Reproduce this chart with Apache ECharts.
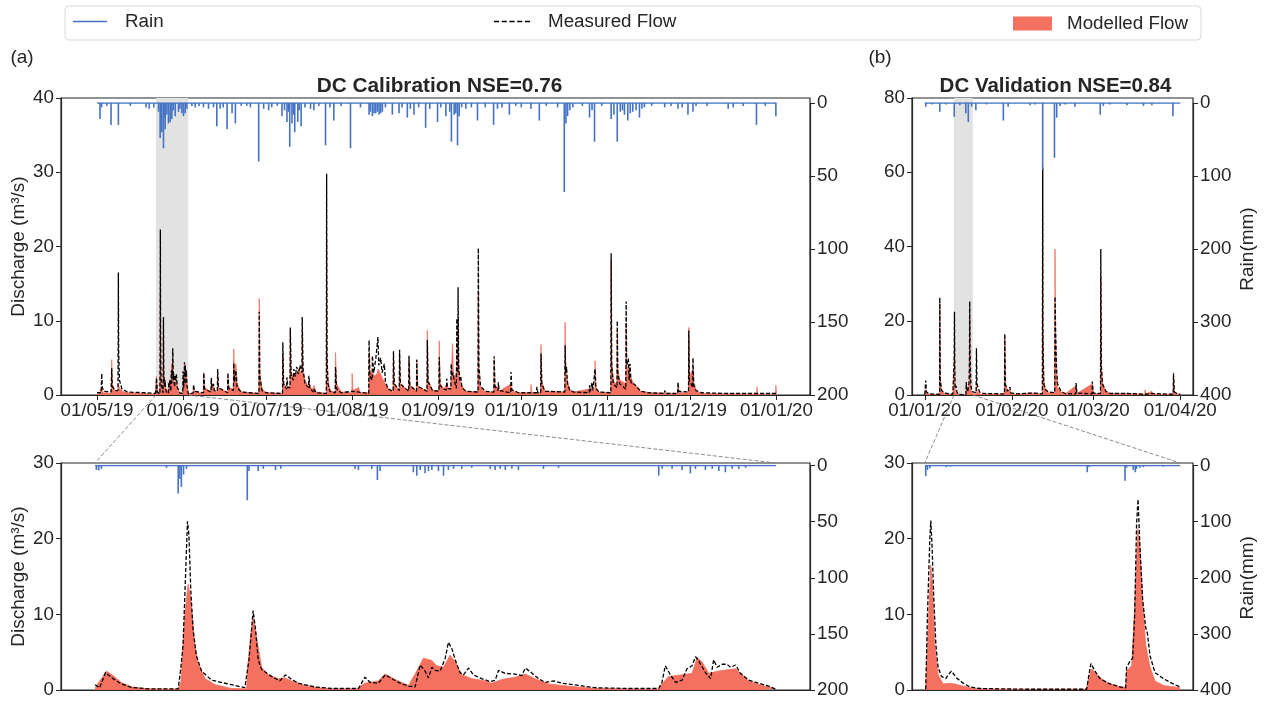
<!DOCTYPE html>
<html><head><meta charset="utf-8">
<script src="https://cdn.jsdelivr.net/npm/echarts@6/dist/echarts.min.js"></script>
<style>html,body{margin:0;padding:0;background:#fff}#c{width:1264px;height:703px}</style>
</head><body><div id="c"></div><script>
// ---------------- DATA ----------------
const calStart = '2019-05-01', calEnd = '2020-01-01';
const calZoomStart = '2019-05-22T06:00:00Z', calZoomHours = 280;
const valStart = '2020-01-01', valEnd = '2020-04-01';
const valZoomStart = '2020-01-11T10:00:00Z', valZoomHours = 161;

const calTicks = ['2019-05-01','2019-06-01','2019-07-01','2019-08-01','2019-09-01','2019-10-01','2019-11-01','2019-12-01','2020-01-01'];
const valTicks = ['2020-01-01','2020-02-01','2020-03-01','2020-04-01'];

// calibration overview (days since calStart), outside the zoom window
const calMeasDays = [[0,0.3],[1.5,0.3],[1.7,2.9],[1.9,1.0],[2.5,0.5],[5.1,0.4],[5.3,3.6],[5.5,1.2],[6.5,0.6],[7.55,0.6],[7.65,8],[7.7,16.5],[7.8,6],[8.1,2.0],[9,0.8],[11,0.4],[17.6,0.3],[17.7,0.5],[18,0.3],[21,0.2],
[33.5,0.3],[34.7,0.3],[34.8,1.4],[35.2,0.5],[38.4,0.3],[38.5,3.0],[38.8,0.8],[41.1,0.4],[41.2,2.3],[41.5,1.0],[42.0,1.5],[42.3,0.6],[43.4,0.5],[43.5,3.5],[43.8,1.0],[47.1,0.3],[47.2,3.0],[47.5,0.9],[49.2,0.6],[49.3,4.3],[49.6,1.8],[50.1,3.3],[50.5,1.0],[52,0.4],[58.4,0.2],[58.5,11.2],[58.7,2.5],[59.5,0.6],[61,0.3],[66.9,0.2],[67,7.1],[67.3,1.5],[68.4,0.8],[68.5,2.4],[68.8,1.0],[69.6,1.0],[69.7,9.1],[70,2.5],[70.8,2.0],[71.0,3.5],[71.5,2.5],[72.0,3.8],[72.6,2.8],[73.2,4.0],[73.9,3.0],[74.0,10.5],[74.3,3.5],[75,1.5],[76.3,1.0],[76.4,2.6],[76.8,0.8],[78.1,0.4],[78.2,0.8],[79,0.3],[82.7,0.2],[82.8,29.8],[82.95,5],[83.3,1.5],[84,0.5],[85.9,0.3],[86,3.8],[86.4,0.8],[88,0.3],[92,0.5],[94.4,0.4],[95,0.2],[98,0.2],[98.1,7.4],[98.4,2.5],[99.2,2.0],[99.3,5.3],[99.8,3.0],[100.5,4.8],[101.3,7.8],[101.6,4.0],[102.3,5.0],[102.8,3.0],[103.6,4.2],[104,1.8],[105,0.8],[106.8,0.5],[106.9,5.9],[107.2,1.5],[109,0.6],[109.1,6.1],[109.4,1.5],[112.4,0.5],[112.5,5.3],[112.8,1.3],[115.2,0.5],[115.3,4.75],[115.6,1.2],[119,0.5],[119.1,7.4],[119.4,1.8],[121,0.6],[123.3,0.5],[123.4,5.1],[123.7,1.3],[125,0.8],[126,0.7],[126.1,2.2],[126.4,0.9],[127.6,0.8],[127.7,4.2],[128,2.5],[128.4,3.0],[128.8,2.0],[129.6,0.9],[129.75,10.3],[129.9,4],[130.1,3],[130.2,14.5],[130.4,4],[130.8,2],[131.2,2.4],[131.6,1.0],[133,0.5],[137.4,0.4],[137.5,19.8],[137.7,4],[138.3,1.2],[140,0.5],[143.1,0.4],[143.2,5.2],[143.5,1.2],[144.6,0.6],[144.7,1.7],[145,0.6],[149.2,0.3],[149.3,3.1],[149.6,0.7],[152,0.3],[158.5,0.3],[158.6,1.1],[159,0.3],[160,0.3],[160.1,5.6],[160.4,1.5],[161.5,0.5],[168.7,0.4],[168.8,6.7],[169.0,3.0],[169.3,3.8],[169.7,1.5],[170.5,0.6],[172,0.4],[177.5,0.3],[177.6,1.3],[177.9,0.5],[178.5,1.7],[178.8,0.6],[179.5,0.4],[179.6,3.5],[179.9,0.9],[181,0.4],[185.3,0.3],[185.4,19.1],[185.6,4],[186.2,1.5],[187.5,1.0],[187.6,10],[187.8,3],[188.5,1.5],[190.7,0.8],[190.8,12.6],[191.0,4],[191.6,4.9],[191.9,2],[192.2,4.2],[192.6,1.5],[193.5,1.5],[194.5,1.2],[196,0.5],[199,0.3],[204.6,0.2],[204.7,0.6],[205,0.2],[209.4,0.2],[209.5,1.7],[209.8,0.5],[213.3,0.4],[213.4,8.7],[213.6,2],[214.8,1.0],[214.9,5.0],[215.2,1.3],[215.5,1.5],[216,0.6],[218,0.3],[227.5,0.2],[227.6,0.3],[228,0.2],[238,0.2],[245,0.2]];

const calModDays = [[0,0.1],[1.1,0.1],[1.2,0.8],[1.5,0.4],[1.7,1.0],[2.2,0.3],[5.1,0.2],[5.3,4.75],[5.5,1.5],[6.5,0.5],[7.55,0.4],[7.7,1.6],[8.0,1.0],[9,0.5],[11,0.3],[17.6,0.2],[17.7,0.4],[18,0.2],[21,0.1],
[33.5,0.2],[34.7,0.2],[34.8,1.0],[35.2,0.4],[38.4,0.2],[38.5,3.0],[38.8,1.0],[41.1,0.4],[41.2,2.0],[41.5,0.8],[42.0,1.2],[42.3,0.5],[43.4,0.4],[43.5,2.9],[43.8,1.0],[47.1,0.3],[47.2,2.4],[47.5,1.0],[49.2,0.8],[49.3,6.2],[49.6,2.5],[50.1,4.2],[50.5,1.5],[52,0.4],[58.4,0.2],[58.5,13.0],[58.7,3],[59.5,0.8],[61,0.3],[66.9,0.2],[67,5.6],[67.3,1.5],[68.5,1.0],[69.6,1.2],[69.7,8.7],[70,3],[71,2.5],[72,3],[73,3.5],[73.9,2.5],[74.0,8.7],[74.3,3],[75,2],[76.3,1.0],[76.4,1.9],[76.8,1.0],[78.1,0.8],[78.2,1.3],[79,0.4],[82.7,0.2],[82.8,21],[82.95,6],[83.3,2],[84,0.6],[85.9,0.3],[86,5.7],[86.4,1.5],[88,0.4],[91.9,0.3],[92,2.9],[92.3,0.6],[94.4,1.0],[94.7,0.3],[98,0.3],[98.1,5.6],[98.4,3],[99.3,3.0],[100,2.6],[101,2.8],[101.3,3.5],[102,3],[103,2.2],[103.6,2.4],[104.3,1.2],[105.5,0.6],[106.8,0.4],[106.9,5.6],[107.2,1.5],[109,0.6],[109.1,5.6],[109.4,1.5],[112.4,0.5],[112.5,4.7],[112.8,1.3],[115.2,0.5],[115.3,4.75],[115.6,1.2],[119,0.5],[119.1,8.7],[119.4,2.0],[121,0.6],[123.3,0.5],[123.4,7.3],[123.7,1.6],[125,0.8],[126.1,1.5],[126.4,0.9],[127.6,1.0],[128.2,6.9],[128.5,2.8],[129.2,2.5],[129.75,3.5],[130.2,10.3],[130.5,3.0],[131.2,1.5],[132,1.0],[133,0.5],[137.4,0.4],[137.5,14],[137.7,3],[138.3,1.0],[140,0.4],[143.1,0.4],[143.2,4.9],[143.5,1.2],[144.7,1.0],[145,0.5],[149.3,1.5],[149.6,0.5],[152,0.3],[156.4,0.3],[156.5,1.4],[156.8,0.3],[160,0.3],[160.1,6.8],[160.4,1.8],[161.5,0.5],[168.7,0.4],[168.8,9.8],[169.0,3.5],[169.5,2.0],[170.5,0.7],[172,0.4],[177.6,0.8],[178.5,1.0],[179.5,0.4],[179.6,4.6],[179.9,1.0],[181,0.4],[185.3,0.3],[185.4,18.2],[185.6,4.5],[186.2,2.0],[187.5,1.2],[187.6,8.7],[187.8,3.5],[188.5,2.0],[190.7,1.5],[190.8,9.6],[191.0,4],[191.6,3.5],[192.3,2.5],[193.5,1.5],[194.5,1.2],[196,0.5],[199,0.3],[209.4,0.2],[209.5,1.0],[209.8,0.3],[213.3,0.3],[213.4,9.1],[213.6,2.5],[214.9,3.5],[215.2,1.2],[215.5,1.5],[216,0.5],[218,0.2],[237.9,0.1],[238,1.1],[238.2,0.1],[244.7,0.1],[244.8,1.3],[245,0.2]];

const calRainDays = [[1.08,11],[1.68,3],[3.5,2],[5.06,15],[7.71,15],[12,2],[17.7,3],[18.8,4],[20.5,3],[22.2,6],[22.77,24],[23.0,12],[23.37,20],[23.97,31],[24.2,10],[24.57,18],[25.2,8],[25.78,14],[26.38,13],[26.98,11],[27.5,5],[28.19,9],[29.39,6],[29.9,4],[30.6,7],[31.2,9],[31.8,7],[32.4,4],[34.2,2],[35.4,3],[36.8,2],[38.4,3],[40.2,4],[42.0,3],[43.2,16],[44.4,4],[45.5,3],[46.9,18],[48.7,7],[49.9,14],[52,2],[54,2],[55.3,3],[58.3,40],[60.1,4],[61.9,5],[63,3],[65,2],[66.7,9],[67.6,5],[68.5,13],[69.0,6],[69.5,30],[70.3,14],[70.8,8],[71.3,20],[72.4,13],[72.9,5],[73.6,16],[75,3],[77.0,4],[78.2,5],[80,2],[82.4,29],[84,3],[85.4,12],[88,2],[91.4,31],[95,3],[98.1,8],[98.6,6],[99.3,9],[99.9,7],[100.5,7],[101.1,6],[101.7,8],[102.3,7],[102.9,6],[104,3],[106.5,8],[108.9,7],[110,3],[111.9,10],[113,4],[114.3,8],[116,3],[118.5,17],[120,4],[122.8,13],[124,3],[125.8,9],[127.2,6],[127.8,26.5],[128.8,8],[129.4,7],[130.0,29],[130.6,9],[131.5,3],[133,4],[135,3],[137.2,12],[140,3],[143.0,15],[144.4,4],[146,3],[148.7,8],[151,2],[153,3],[156.5,4],[159.5,12],[162,2],[166.1,3],[168.5,61],[169.1,14],[169.7,9],[170.5,5],[171.6,3],[175,2],[177.6,10],[178.5,5],[179.4,26.5],[182,2],[185.4,11],[186.4,8],[187.6,26.5],[188.7,6],[189.5,5],[190.2,8],[191.4,12],[192.3,7],[193.2,6],[194.4,5],[195.6,10],[196.5,4],[197.4,3],[200,2],[204.7,3],[207,2],[209.5,4],[211,3],[213.1,8],[214.9,6],[216,2],[220,2],[227.6,4],[229.4,3],[233,2],[237.8,15],[241,2],[244.8,9]];

// calibration zoom window (hours since calZoomStart)
const calZoomMeas = [[0,0.7],[1.9,0.3],[4.3,2.3],[7.4,1.5],[10.8,0.8],[15,0.35],[21.8,0.15],[34.2,0.15],[35.3,3],[36.2,6],[37.2,15],[38,22.3],[38.6,20.5],[39.4,13],[40.3,8],[41.7,4.5],[43.8,2.5],[47.9,1.3],[56.1,0.7],[61.6,0.3],[62.3,0.2],[63.3,4],[64.1,7],[65,10.5],[66,8],[67.1,4],[68.5,2.7],[72.6,1.8],[76,1.2],[78.3,2.0],[80.8,1.4],[83.6,0.9],[90.4,0.4],[97.3,0.2],[108.3,0.2],[109,0.4],[111,1.7],[113.1,1.0],[116.5,0.9],[119.3,2.0],[122,1.5],[124.7,1.0],[128.9,0.5],[131.6,0.4],[133.7,3.3],[135.7,2.5],[137.1,1.6],[138.5,3.0],[139.8,2.6],[141.9,2.5],[144,4.2],[145.3,6.3],[146.7,5.5],[148.1,4.0],[150.1,2.3],[151.5,2.0],[153.6,2.9],[155.6,2.0],[159,1.5],[162.5,1.1],[164.6,1.3],[165.9,2.6],[168.6,2.2],[172.8,2.1],[175.5,1.9],[176.9,2.9],[179,2.4],[182.4,1.5],[185.1,1.0],[188.6,1.2],[192,0.9],[198.9,0.6],[205.7,0.3],[219.4,0.2],[231.8,0.2],[233.1,1.0],[234.5,3.2],[236.6,2.0],[238.7,1.0],[241.4,1.3],[243.4,2.8],[245.5,3.2],[246.9,4.4],[248.3,3.8],[251,2.3],[253.1,1.5],[254.4,4.0],[255.8,3.0],[257.9,3.4],[259.9,3.4],[261.3,3.0],[263.4,3.3],[265.4,2.2],[268.8,1.3],[272.9,0.9],[277.1,0.5],[279.8,0.1]];
const calZoomMod = [[0,0.3],[4.7,2.5],[7.4,1.9],[10.8,1.0],[15,0.4],[21.8,0.15],[34.2,0.1],[35.3,1.0],[36.9,10],[38.3,14],[39.4,12],[41,6],[42.4,3.5],[45.3,1.5],[49.4,0.7],[56.1,0.2],[62.3,0.15],[62.8,3],[63.9,7],[65,9.5],[66.4,7],[68.5,3],[71.2,2],[75.3,1.5],[78.1,1.6],[80.8,1.2],[86.3,0.6],[91.8,0.3],[97.3,0.15],[108.3,0.15],[109,0.5],[111,0.9],[116.5,1.2],[119.3,2.1],[123.4,1.4],[128.9,0.6],[132.3,2.5],[135,4.2],[138.5,3.9],[140.5,3.2],[143.3,3.0],[146,4.6],[148.1,3.7],[150.8,2.0],[154.9,1.5],[160.4,1.2],[163.2,0.9],[167.3,1.4],[172.8,1.7],[176.9,2.1],[181,1.5],[186.5,0.8],[194.7,0.5],[205.7,0.2],[231.8,0.1],[233.1,0.8],[235.9,1.8],[241.4,2.0],[245.5,2.2],[247.6,4.3],[249.6,3.7],[252.4,2.2],[256.5,2.5],[260.6,2.7],[263.4,2.8],[268.8,1.2],[274.3,0.6],[279.8,0.2]];
const calZoomRain = [[0.55,4],[1.5,4.4],[2.6,3],[29.4,2],[34.2,25],[34.9,12],[35.5,19],[36.4,8],[37.6,3],[62.6,31],[63.3,5],[67.1,5],[69.2,3],[74.2,4],[76.4,3],[106.9,3],[108.3,4],[113.8,3],[116.1,13],[117.2,5],[130.9,6],[132.3,9],[133.7,4],[135.7,7],[137.1,5],[138.5,4],[141.2,5],[143.3,9],[145.3,4],[147.4,3],[150.8,3],[154.9,2],[162.5,3],[164.5,4],[166.6,3],[168.7,4],[171.4,3],[174.1,4],[184.4,3],[190.6,2],[231.8,9],[233.2,3],[237.3,3],[241.4,4],[244.8,7],[246.9,3],[251,4],[253.8,3],[256.5,5],[259.2,6],[262,3],[264.7,3],[267.5,2]];

// validation overview (days since valStart), outside the zoom window
const valMeasDays = [[0,0.1],[0.3,0.1],[0.35,3.9],[0.6,0.8],[1.5,0.3],[5.3,0.2],[5.35,26.3],[5.5,4],[6,1.2],[7,0.5],[10,0.2],[10.4,0.1],
[17.5,0.8],[18.3,0.6],[18.4,12.6],[18.6,3],[19.5,0.8],[21,0.4],[28.4,0.3],[28.5,16.5],[28.7,3],[29.5,1],[30.2,0.8],[30.3,2.1],[30.6,0.6],[33,0.3],[37.5,0.5],[39.3,0.5],[41.9,0.3],[42,61.2],[42.1,15],[42.4,3],[43,1.5],[44,0.8],[46.3,0.6],[46.4,26.5],[46.6,18],[46.9,8],[47.3,3],[48.5,1],[50,0.4],[53.8,0.3],[53.9,3.2],[54.2,0.5],[59.6,0.3],[59.7,3.6],[60,0.5],[62.6,0.4],[62.7,39.3],[62.9,8],[63.3,3],[63.6,3],[64.5,1],[66,0.4],[72,0.4],[78.5,0.2],[80.9,0.4],[81.2,0.2],[88.5,0.2],[88.6,5.7],[88.9,0.8],[90,0.3],[91,0.2]];
const valModDays = [[0,0.05],[0.3,0.05],[0.35,1.5],[0.6,0.4],[1.5,0.2],[5.3,0.1],[5.35,25],[5.5,4],[6,1],[7,0.4],[10,0.1],
[17.5,0.3],[18.3,0.3],[18.4,3.9],[18.6,1],[19.5,0.3],[28.4,0.2],[28.5,15.6],[28.7,3],[29.5,0.8],[30.3,1.5],[30.6,0.4],[33,0.2],[37.5,0.5],[38,0.3],[39.3,0.5],[39.6,0.2],[41.9,0.2],[42,61.9],[42.1,20],[42.4,4],[43,1.5],[44,0.6],[46.3,0.5],[46.4,39.3],[46.6,15],[46.9,6],[47.3,2],[48.5,0.8],[50,0.3],[53.9,2.5],[54.2,0.4],[59.7,3.0],[60,0.4],[62.6,0.4],[62.7,31.9],[62.9,8],[63.3,3],[64.5,1],[66,0.4],[72,0.4],[78.4,0.2],[78.5,1.4],[78.7,0.2],[80.9,1.0],[81.1,0.2],[88.5,0.2],[88.6,6.1],[88.9,0.8],[90,0.3],[91,0.2]];
const valRainDays = [[0.35,5],[2.5,2],[5.35,12],[7.5,2],[10.5,19],[12.5,3],[14.6,14],[15.5,26],[16.7,5],[18.2,10],[22,2],[28.0,24],[29.7,5],[37.5,3],[39.3,2],[42.0,92],[46.2,75],[47.0,20],[48.2,4],[50,2],[53.5,5],[62.5,16],[63.6,4],[66,2],[72.0,3],[77.9,4],[80.9,3],[88.4,18]];

// validation zoom window (hours since valZoomStart)
const valZoomMeas = [[0.6,0.1],[1.7,10],[3.2,20],[3.8,22.4],[4.6,19],[5.7,12],[7,6],[8.4,3],[10.5,1.8],[13.3,1.5],[14.7,2.0],[16.8,2.5],[20,1.6],[24.2,0.9],[28.4,0.4],[34.7,0.2],[64.2,0.1],[102,0.1],[103.3,1.8],[104.7,3.5],[107.3,2.5],[110.4,1.5],[116.7,0.8],[125.1,0.3],[126.6,0.3],[127.2,3.0],[129.3,3.8],[131,4.2],[132.3,10],[133.5,22],[134.4,25.2],[135.6,19],[137.3,12],[139.2,8.3],[140.3,7.5],[142,4.5],[145.1,2.3],[150.4,1.5],[155.6,0.9],[160.9,0.4]];
const valZoomMod = [[0.6,0.1],[2.1,8],[3.8,16.5],[4.8,14],[6.3,6],[8.4,2],[11.6,0.8],[15.8,0.9],[18.9,0.8],[24.2,0.5],[30.5,0.2],[43.1,0.1],[102,0.1],[103.3,1.5],[105.2,2.8],[108.3,2.0],[114.6,1.0],[123,0.4],[126.6,0.4],[127.2,2.5],[130.4,3.2],[132.5,12],[134.2,21.3],[135.6,19],[137.3,12],[139.2,6],[142,3],[145.1,1.2],[150.4,0.6],[160.9,0.3]];
const valZoomRain = [[0.6,19],[1.7,8],[3.2,5],[13.7,3],[16.2,2],[102.4,12],[103.7,3],[126.2,27],[127.2,4],[131.4,8],[132.7,12],[133.5,6],[135.6,4],[137.8,3],[150.4,2]];

// ---------------- BUILD ----------------
const DAY = 86400000, HOUR = 3600000;
const FF = '"Liberation Sans", Arial, sans-serif';
const TXT = '#262626';
const RED = '#F4705F', BLUE = '#4472C4';

const cS = Date.parse(calStart), cE = Date.parse(calEnd);
const cZS = Date.parse(calZoomStart), cZE = cZS + calZoomHours * HOUR;
const vS = Date.parse(valStart), vE = Date.parse(valEnd);
const vZS = Date.parse(valZoomStart), vZE = vZS + valZoomHours * HOUR;

const byDay = (base, arr) => arr.map(p => [base + p[0] * DAY, p[1]]);
const byHour = (base, arr) => arr.map(p => [base + p[0] * HOUR, p[1]]);
const merge = (a, b) => a.concat(b).sort((x, y) => x[0] - y[0]);

const calTopMeas = merge(byDay(cS, calMeasDays), byHour(cZS, calZoomMeas));
const calTopMod = merge(byDay(cS, calModDays), byHour(cZS, calZoomMod));
const valTopMeas = merge(byDay(vS, valMeasDays), byHour(vZS, valZoomMeas));
const valTopMod = merge(byDay(vS, valModDays), byHour(vZS, valZoomMod));

const pad = (a, b, f1, f2) => [a - f1 * (b - a), b + f2 * (b - a)];
const cR = pad(cS, cE, 0.053, 0.0494), vR = pad(vS, vE, 0.05, 0.05), cZR = pad(cZS, cZE, 0.05, 0.05), vZR = pad(vZS, vZE, 0.05, 0.05);

const p2 = n => (n < 10 ? '0' : '') + n;
const fmtDate = v => { const d = new Date(v); return p2(d.getUTCDate()) + '/' + p2(d.getUTCMonth() + 1) + '/' + String(d.getUTCFullYear()).slice(2); };

const grids = [
  {left: 61, top: 98, width: 749, height: 297, show: true, borderColor: TXT, borderWidth: 1.2},
  {left: 61, top: 103, width: 749, height: 292},
  {left: 61, top: 463, width: 749, height: 227, show: true, borderColor: TXT, borderWidth: 1.2},
  {left: 61, top: 465.5, width: 749, height: 224.5},
  {left: 912, top: 98, width: 281, height: 297, show: true, borderColor: TXT, borderWidth: 1.2},
  {left: 912, top: 103, width: 281, height: 292},
  {left: 912, top: 463, width: 281, height: 227, show: true, borderColor: TXT, borderWidth: 1.2},
  {left: 912, top: 465.5, width: 281, height: 224.5}
].map(g => Object.assign({outerBoundsMode: 'none', containLabel: false}, g));

function mainX(gi, range, ticks) {
  const tv = ticks ? ticks.map(s => Date.parse(s)) : [];
  return {type: 'value', gridIndex: gi, min: range[0], max: range[1],
    axisLine: {show: true, onZero: false, lineStyle: {color: TXT, width: 1.2}},
    axisTick: {show: !!ticks, length: 5, lineStyle: {color: TXT, width: 1}, customValues: tv},
    axisLabel: {show: !!ticks, customValues: tv, formatter: fmtDate, fontSize: 18.8, color: TXT, margin: 6, fontFamily: FF},
    splitLine: {show: false}};
}
function hiddenX(gi, range) { return {type: 'value', gridIndex: gi, min: range[0], max: range[1], show: false}; }
function mainY(gi, max, interval, named) {
  return {type: 'value', gridIndex: gi, min: 0, max: max, interval: interval, position: 'left',
    axisLine: {show: true, lineStyle: {color: TXT, width: 1.2}},
    axisTick: {show: true, length: 5, lineStyle: {color: TXT}},
    axisLabel: {fontSize: 18.8, color: TXT, margin: 7, fontFamily: FF},
    splitLine: {show: false},
    name: named ? 'Discharge (m³/s)' : '', nameLocation: 'middle', nameGap: 33, nameMoveOverlap: false,
    nameTextStyle: {fontSize: 19, color: TXT, fontFamily: FF}};
}
function rainY(gi, max, interval, named) {
  return {type: 'value', gridIndex: gi, min: 0, max: max, interval: interval, inverse: true, position: 'right',
    axisLine: {show: true, lineStyle: {color: TXT, width: 1.2}},
    axisTick: {show: true, length: 5, lineStyle: {color: TXT}},
    axisLabel: {fontSize: 18.8, color: TXT, margin: 7, fontFamily: FF},
    splitLine: {show: false},
    name: named ? 'Rain(mm)' : '', nameLocation: 'middle', nameGap: 45,
    nameTextStyle: {fontSize: 19, color: TXT, fontFamily: FF}};
}

const xAxes = [mainX(0, cR, calTicks), hiddenX(1, cR), mainX(2, cZR, null), hiddenX(3, cZR),
               mainX(4, vR, valTicks), hiddenX(5, vR), mainX(6, vZR, null), hiddenX(7, vZR)];
const yAxes = [mainY(0, 40, 10, true), rainY(1, 200, 50, false), mainY(2, 30, 10, true), rainY(3, 200, 50, false),
               mainY(4, 80, 20, false), rainY(5, 400, 100, true), mainY(6, 30, 10, false), rainY(7, 400, 100, true)];

function panelSeries(ai, meas, mod, rain, rainSpan, shade) {
  const s = [];
  if (shade) {
    s.push({type: 'line', name: 'shade', xAxisIndex: ai, yAxisIndex: ai, data: mod, symbol: 'none', silent: true,
      lineStyle: {width: 0, opacity: 0}, z: 1,
      markArea: {silent: true, itemStyle: {color: '#e2e2e2'}, data: [[{xAxis: shade[0]}, {xAxis: shade[1]}]]}});
  }
  s.push({type: 'line', name: 'Modelled Flow', xAxisIndex: ai, yAxisIndex: ai, data: mod, symbol: 'none',
    color: RED, lineStyle: {color: RED, width: 0.8}, areaStyle: {color: RED, opacity: 1}, z: 2});
  s.push({type: 'line', name: 'Measured Flow', xAxisIndex: ai, yAxisIndex: ai, data: meas, symbol: 'none',
    color: '#000', lineStyle: {color: '#000', width: 1.3, type: [4, 2]}, z: 3});
  s.push({type: 'line', name: 'Rain', xAxisIndex: ai + 1, yAxisIndex: ai + 1, data: [[rainSpan[0], 0], [rainSpan[1], 0]],
    symbol: 'none', color: BLUE, lineStyle: {color: BLUE, width: 1.5}, z: 4});
  s.push({type: 'bar', name: 'RainSpikes', xAxisIndex: ai + 1, yAxisIndex: ai + 1, data: rain, barWidth: 1.6,
    itemStyle: {color: BLUE}, z: 4});
  return s;
}

const series = [].concat(
  panelSeries(0, calTopMeas, calTopMod, byDay(cS, calRainDays), [cS, cE], [cZS, cZE]),
  panelSeries(2, byHour(cZS, calZoomMeas), byHour(cZS, calZoomMod), byHour(cZS, calZoomRain), [cZS, cZE], null),
  panelSeries(4, valTopMeas, valTopMod, byDay(vS, valRainDays), [vS, vE], [vZS, vZE]),
  panelSeries(6, byHour(vZS, valZoomMeas), byHour(vZS, valZoomMod), byHour(vZS, valZoomRain), [vZS, vZE], null)
);

const legTxt = pad0 => ({fontSize: 18.8, color: TXT, fontFamily: FF, padding: [0, 0, 0, pad0]});
const dashIcon = 'path://M0,0h4v1h-4zM6,0h4v1h-4zM12,0h4v1h-4zM18,0h4v1h-4zM24,0h4v1h-4z';
const legends = [
  {data: [{name: 'Rain', icon: 'rect', itemStyle: {color: BLUE}}], left: 73, top: 12, padding: 0, itemWidth: 34, itemHeight: 1.6, textStyle: legTxt(13)},
  {data: [{name: 'Measured Flow', icon: dashIcon, itemStyle: {color: '#000'}}], left: 494, top: 12, padding: 0, itemWidth: 36, itemHeight: 1.4, textStyle: legTxt(13)},
  {data: [{name: 'Modelled Flow', icon: 'rect'}], left: 1013, top: 14, padding: 0, itemWidth: 39, itemHeight: 14, textStyle: legTxt(10)}
];

const chart = echarts.init(document.getElementById('c'), null, {renderer: 'canvas'});
chart.setOption({
  useUTC: true, animation: false, backgroundColor: '#fff',
  textStyle: {fontFamily: FF},
  grid: grids, xAxis: xAxes, yAxis: yAxes, series: series, legend: legends
});

// connectors between overview and zoom panels
function conn(topIdx, botIdx, tx, bx, botMax) {
  const a = chart.convertToPixel({xAxisIndex: topIdx, yAxisIndex: topIdx}, [tx, 0]);
  const b = chart.convertToPixel({xAxisIndex: botIdx, yAxisIndex: botIdx}, [bx, botMax]);
  return {type: 'line', shape: {x1: a[0], y1: a[1], x2: b[0], y2: b[1]}, silent: true, z: 10,
    style: {stroke: '#7f7f7f', lineWidth: 0.9, lineDash: [4, 2]}};
}
const txt = (x, y, s, font) => ({type: 'text', x: x, y: y, silent: true, z: 10,
  style: {text: s, font: font, fill: TXT, align: 'center', verticalAlign: 'middle', textAlign: 'center', textVerticalAlign: 'middle'}});

chart.setOption({graphic: [
  {type: 'rect', shape: {x: 65, y: 6, width: 1136, height: 34, r: 4}, silent: true, z: -1,
    style: {fill: 'none', stroke: '#d9d9d9', lineWidth: 1}},
  txt(22, 58, '(a)', '19px ' + FF),
  txt(880, 58, '(b)', '19px ' + FF),
  txt(61 + 749 / 2 + 4, 86, 'DC Calibration NSE=0.76', 'bold 20.8px ' + FF),
  txt(912 + 281 / 2 + 3, 86, 'DC Validation NSE=0.84', 'bold 20.5px ' + FF),
  conn(0, 2, cZS, cZS, 30), conn(0, 2, cZE, cZE, 30),
  conn(4, 6, vZS, vZS, 30), conn(4, 6, vZE, vZE, 30)
]});
</script></body></html>
